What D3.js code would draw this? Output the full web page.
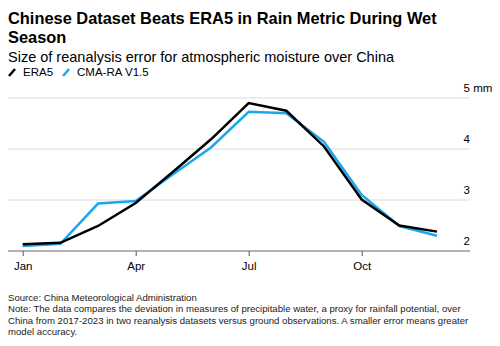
<!DOCTYPE html>
<html><head><meta charset="utf-8">
<script src="https://cdn.jsdelivr.net/npm/d3@7"></script>
<style>
body{margin:0;background:#fff;}
svg{display:block;font-family:"Liberation Sans",Arial,Helvetica,sans-serif;}
</style></head>
<body><svg id="c" width="500" height="346"></svg>
<script>
const months = ["Jan","Feb","Mar","Apr","May","Jun","Jul","Aug","Sep","Oct","Nov","Dec"];
const era5 = [2.13,2.16,2.49,2.94,3.56,4.19,4.90,4.75,4.05,3.01,2.50,2.38];
const cma = [2.10,2.14,2.93,2.98,3.51,4.03,4.73,4.70,4.14,3.10,2.49,2.30];
const yTicks = [2,3,4,5];
const xTickMonths = ["Jan","Apr","Jul","Oct"];
const seriesNames = ["ERA5","CMA-RA V1.5"];
const colors = ["#000000","#1aa7f0"];

const svg = d3.select("#c");
const x = d3.scalePoint().domain(months).range([22.7,437]);
const y = d3.scaleLinear().domain([2,5]).range([251,98]);

// title
svg.append("text").attr("x",8).attr("y",24).attr("font-size",16.4).attr("font-weight","bold").attr("fill","#000")
  .text("Chinese Dataset Beats ERA5 in Rain Metric During Wet");
svg.append("text").attr("x",8).attr("y",42.5).attr("font-size",16.4).attr("font-weight","bold").attr("fill","#000")
  .text("Season");
svg.append("text").attr("x",8).attr("y",61.5).attr("font-size",14.5).attr("fill","#000")
  .text("Size of reanalysis error for atmospheric moisture over China");

// legend
const lg = svg.append("g");
let lx = 8;
seriesNames.forEach((n,i)=>{
  lg.append("line").attr("x1",lx+1).attr("y1",76).attr("x2",lx+7).attr("y2",69)
    .attr("stroke",colors[i]).attr("stroke-width",2.5);
  const t = lg.append("text").attr("x",lx+15).attr("y",76).attr("font-size",11.5).attr("fill","#000").text(n);
  lx = lx + 15 + t.node().getComputedTextLength() + 9;
});

// gridlines
svg.append("g").selectAll("line").data(yTicks.filter(d=>d!==2)).join("line")
  .attr("x1",8).attr("x2",470).attr("y1",d=>y(d)).attr("y2",d=>y(d))
  .attr("stroke","#dcdcdc").attr("stroke-width",1);

// y labels
const yl = svg.append("g");
yTicks.forEach(d=>{
  yl.append("text").attr("x",470).attr("y",y(d)-6).attr("font-size",11.5).attr("fill","#000")
    .attr("text-anchor","end").text(d);
  if(d===5){
    yl.append("text").attr("x",470).attr("y",y(d)-6).attr("font-size",11.5).attr("fill","#000").text("\u00a0mm");
  }
});

// x axis
const xAxis = d3.axisBottom(x).tickValues(xTickMonths).tickSize(5).tickPadding(6);
const gx = svg.append("g").attr("transform","translate(0,251)").call(xAxis);
gx.select(".domain").remove();
gx.selectAll(".tick line").attr("stroke","#555");
gx.selectAll(".tick text").attr("font-size",11.5).attr("fill","#000").attr("font-family","Liberation Sans, Arial, sans-serif");
svg.append("line").attr("x1",8).attr("x2",470).attr("y1",251).attr("y2",251).attr("stroke","#666").attr("stroke-width",1);

// lines
const line = d3.line().x((d,i)=>x(months[i])).y(d=>y(d));
[cma, era5].forEach((s,k)=>{
  const ci = k===0 ? 1 : 0;
  svg.append("path").datum(s).attr("d",line).attr("fill","none")
    .attr("stroke",colors[ci]).attr("stroke-width",2.5).attr("stroke-linejoin","miter");
});

// footer
const foot = [
 "Source: China Meteorological Administration",
 "Note: The data compares the deviation in measures of precipitable water, a proxy for rainfall potential, over",
 "China from 2017-2023 in two reanalysis datasets versus ground observations. A smaller error means greater",
 "model accuracy."
];
svg.append("g").selectAll("text").data(foot).join("text")
  .attr("x",8).attr("y",(d,i)=>301+i*11.3).attr("font-size",9.6).attr("fill","#222").text(d=>d);
</script></body></html>
